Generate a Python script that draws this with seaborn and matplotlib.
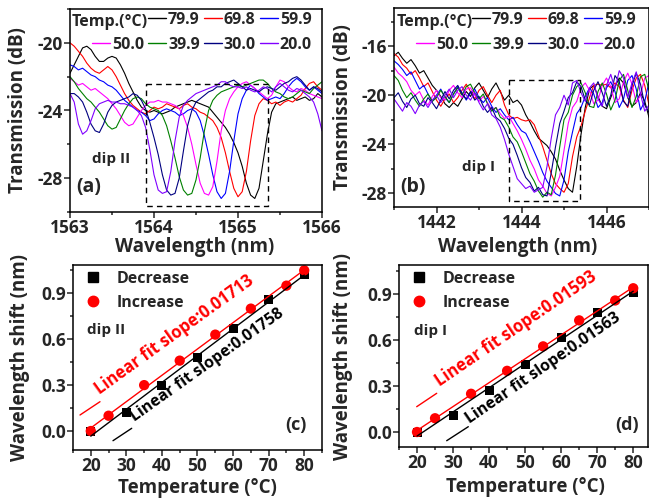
import numpy as np
import pandas as pd
import matplotlib
matplotlib.use('Agg')
import matplotlib.pyplot as plt
from matplotlib.lines import Line2D
from matplotlib.ticker import MultipleLocator
import seaborn as sns

# temperatures and colours of the spectra
temps = ['79.9', '69.8', '59.9', '50.0', '39.9', '30.0', '20.0']
colors = ['black', 'red', 'blue', 'magenta', 'green', 'navy', '#8000ff']

# (a) dip II spectra, sampled every 0.05 nm from 1563 to 1566
wl_a = np.round(np.arange(1563.0, 1566.001, 0.05), 2)
a_799 = [-21.8, -21.3, -20.8, -20.3, -20.2, -20.4, -20.8, -21.1, -21.1, -20.9, -20.8, -20.9, -21.3, -21.8, -22.4, -22.9,
         -23.4, -23.8, -24.0, -24.1, -24.0, -24.1, -24.2, -24.1, -24.0, -23.8, -23.7, -23.6, -23.5, -23.4, -23.5, -23.6,
         -23.7, -23.8, -24.1, -24.4, -24.7, -25.0, -25.4, -25.9, -26.5, -27.3, -28.3, -29.0, -29.2, -28.6, -27.0, -25.4,
         -24.1, -23.6, -23.5, -23.4, -23.3, -23.2, -23.4, -23.3, -23.2, -23.4, -23.3, -23.0, -23.2]
a_698 = [-20.0, -20.2, -20.5, -20.8, -21.2, -21.5, -21.7, -21.8, -21.6, -21.4, -21.6, -22.0, -22.5, -23.0, -23.4, -23.7,
         -23.9, -24.1, -24.2, -24.0, -23.8, -23.9, -23.8, -23.6, -23.7, -23.8, -23.9, -23.7, -23.6, -23.8, -23.9, -24.1,
         -24.2, -24.4, -24.6, -25.0, -25.6, -26.5, -27.6, -28.6, -29.1, -28.8, -27.6, -25.8, -24.3, -23.6, -23.3, -23.4,
         -23.6, -23.5, -23.7, -23.5, -23.4, -23.5, -23.3, -23.1, -22.7, -22.4, -22.3, -22.6, -22.8]
a_599 = [-21.3, -21.4, -21.6, -21.5, -21.7, -21.9, -22.0, -22.2, -22.3, -22.5, -22.6, -22.8, -23.1, -23.4, -23.6, -23.8,
         -24.0, -24.1, -24.3, -24.6, -24.5, -24.2, -24.0, -23.9, -24.0, -24.1, -24.3, -24.2, -24.0, -23.9, -24.1, -24.6,
         -25.5, -26.6, -27.8, -28.8, -29.2, -28.9, -27.6, -25.8, -24.2, -23.3, -22.8, -22.5, -22.7, -23.0, -23.2, -23.4,
         -23.3, -23.2, -23.3, -23.0, -22.6, -22.3, -22.1, -22.3, -22.6, -22.8, -22.6, -22.8, -23.0]
a_500 = [-22.1, -22.3, -22.5, -22.4, -22.6, -22.8, -22.7, -22.9, -23.1, -23.3, -23.6, -23.9, -24.3, -24.7, -24.9, -24.8,
         -24.4, -24.0, -23.7, -23.5, -23.5, -23.4, -23.5, -23.5, -23.6, -23.7, -23.9, -24.3, -25.0, -26.0, -27.2, -28.3,
         -28.9, -29.0, -28.5, -27.0, -25.2, -24.0, -23.3, -22.9, -22.6, -22.4, -22.3, -22.5, -22.7, -22.9, -23.1, -23.3,
         -23.1, -22.6, -22.2, -22.3, -22.6, -22.8, -22.9, -22.7, -22.8, -23.0, -23.1, -23.2, -23.3]
a_399 = [-22.0, -22.3, -22.7, -23.0, -23.3, -23.5, -23.8, -24.1, -24.5, -24.9, -25.1, -25.0, -24.5, -24.0, -23.6, -23.3,
         -23.2, -23.3, -23.6, -23.8, -23.9, -24.0, -24.3, -24.9, -25.8, -26.8, -27.9, -28.7, -29.0, -28.9, -28.1, -26.8,
         -25.2, -24.0, -23.4, -23.1, -22.9, -22.8, -22.7, -22.6, -22.5, -22.6, -22.5, -22.4, -22.3, -22.2, -22.2, -22.4,
         -22.7, -22.9, -23.0, -23.2, -23.3, -23.2, -23.0, -22.8, -22.9, -23.0, -22.7, -22.5, -22.3]
a_300 = [-23.0, -23.0, -23.2, -23.5, -24.1, -24.8, -25.2, -25.3, -24.8, -24.1, -23.7, -23.5, -23.4, -23.3, -23.2, -23.0,
         -23.1, -23.4, -23.9, -24.7, -25.6, -26.6, -27.8, -28.7, -29.0, -28.9, -28.0, -26.4, -24.9, -24.0, -23.5, -23.3,
         -23.1, -22.9, -22.8, -22.6, -22.6, -22.4, -22.3, -22.2, -22.4, -22.6, -22.8, -22.7, -22.8, -22.9, -22.7, -22.6,
         -22.7, -22.8, -22.6, -22.4, -22.3, -22.1, -22.0, -22.2, -22.5, -22.8, -22.6, -22.7, -22.9]
a_200 = [-23.0, -23.5, -24.8, -25.4, -25.2, -24.6, -23.9, -23.6, -23.5, -23.4, -23.5, -23.5, -23.6, -23.6, -23.7, -23.8,
         -24.0, -24.3, -25.0, -26.3, -27.8, -28.7, -28.9, -28.8, -27.6, -25.8, -24.4, -23.7, -23.4, -23.2, -23.0, -22.9,
         -22.8, -22.7, -22.6, -22.5, -22.3, -22.3, -22.5, -22.6, -22.6, -22.7, -22.6, -22.8, -22.9, -22.8, -22.6, -22.7,
         -22.9, -22.6, -22.4, -22.6, -22.8, -22.9, -22.7, -22.8, -23.0, -23.2, -23.5, -24.2, -25.2]

# (b) dip I spectra, sampled every 0.1 nm from 1441 to 1447
wl_b = np.round(np.arange(1441.0, 1447.001, 0.1), 1)
b_799 = [-16.8, -16.5, -17.0, -17.4, -17.1, -17.6, -18.2, -18.0, -18.6, -19.2, -19.6, -20.1, -20.7, -21.0, -20.6, -20.9,
         -20.3, -19.7, -20.1, -19.4, -19.0, -19.6, -20.2, -19.5, -19.0, -19.7, -20.4, -20.0, -20.6, -20.4, -20.8, -21.6,
         -22.2, -22.9, -23.5, -23.8, -24.1, -24.6, -25.2, -26.1, -26.9, -27.6, -27.9, -25.8, -23.2, -21.0, -19.5, -19.2,
         -20.1, -20.9, -21.1, -20.2, -19.3, -18.6, -19.0, -20.2, -20.9, -20.6, -19.8, -20.5, -21.8]
b_698 = [-16.6, -16.9, -17.5, -17.8, -18.3, -18.0, -18.6, -19.3, -19.0, -19.7, -20.4, -20.9, -20.3, -19.9, -20.6, -20.2,
         -19.6, -19.1, -19.7, -20.3, -19.6, -19.3, -20.0, -20.6, -20.0, -19.6, -20.8, -21.6, -21.9, -21.8, -22.0, -22.1,
         -22.0, -22.4, -23.3, -24.2, -25.3, -26.4, -27.2, -27.6, -27.9, -27.2, -25.0, -23.4, -22.5, -21.3, -20.2, -19.2,
         -19.1, -19.2, -19.1, -19.4, -19.0, -19.3, -20.4, -21.0, -19.6, -18.6, -18.3, -19.2, -20.8]
b_599 = [-17.2, -17.5, -17.9, -18.4, -18.1, -18.8, -19.5, -19.2, -19.9, -20.5, -20.0, -19.5, -20.2, -20.6, -19.9, -19.3,
         -19.8, -20.4, -19.8, -19.5, -20.2, -20.6, -20.2, -20.9, -21.4, -21.1, -21.6, -22.0, -21.8, -22.4, -22.9, -23.1,
         -23.8, -24.6, -25.4, -26.3, -27.0, -27.5, -28.0, -28.2, -26.9, -24.6, -23.0, -21.5, -21.0, -20.1, -19.4, -19.9,
         -21.0, -20.6, -19.4, -18.9, -19.7, -21.0, -20.3, -18.8, -18.4, -19.5, -21.2, -20.5, -18.9]
b_500 = [-17.7, -18.2, -18.5, -18.9, -19.6, -20.0, -19.7, -20.4, -20.8, -20.1, -19.6, -20.2, -20.4, -19.6, -19.2, -19.8,
         -20.2, -19.5, -19.4, -20.0, -20.5, -20.1, -20.6, -21.2, -21.0, -21.5, -21.9, -21.7, -22.3, -22.9, -23.6, -24.4,
         -25.3, -26.0, -26.9, -27.4, -28.0, -28.2, -27.5, -26.6, -24.5, -22.3, -21.0, -20.5, -19.4, -19.0, -19.6, -20.7,
         -20.4, -19.2, -18.6, -19.3, -20.6, -20.3, -18.9, -18.2, -19.1, -20.6, -20.0, -18.6, -18.4]
b_399 = [-18.4, -18.8, -19.6, -20.2, -19.8, -20.4, -20.9, -20.3, -19.9, -20.5, -20.2, -19.6, -20.1, -20.6, -19.9, -19.4,
         -20.0, -19.3, -19.1, -19.8, -20.3, -19.9, -20.7, -21.3, -21.0, -21.8, -22.0, -22.6, -23.4, -23.8, -24.6, -25.5,
         -26.4, -27.0, -27.8, -28.3, -27.9, -28.1, -26.5, -24.2, -22.0, -21.4, -20.0, -19.3, -19.0, -19.8, -20.9, -21.0,
         -19.7, -19.0, -19.9, -21.2, -20.4, -18.8, -18.3, -19.6, -21.0, -20.1, -18.5, -18.3, -19.6]
b_300 = [-20.2, -19.8, -20.5, -21.0, -20.3, -20.0, -20.7, -20.9, -20.2, -20.6, -21.1, -20.4, -19.7, -20.3, -19.6, -19.2,
         -19.9, -20.3, -19.7, -20.4, -20.1, -20.9, -21.4, -21.0, -21.8, -22.1, -22.7, -23.5, -24.0, -24.9, -25.9, -26.7,
         -27.1, -27.8, -27.5, -28.1, -28.2, -26.3, -24.2, -22.3, -21.3, -20.2, -19.8, -18.9, -19.3, -20.4, -20.8, -19.6,
         -18.9, -19.8, -20.9, -20.0, -18.4, -18.9, -20.5, -20.9, -19.2, -18.2, -19.1, -20.8, -21.4]
b_200 = [-20.3, -20.8, -21.3, -20.6, -20.9, -21.5, -20.8, -20.5, -21.0, -20.4, -20.0, -20.6, -20.0, -19.5, -20.2, -19.6,
         -19.3, -20.0, -20.4, -19.8, -20.6, -21.2, -20.7, -21.6, -21.9, -22.6, -23.6, -24.8, -25.8, -26.8, -27.2, -27.6,
         -27.4, -27.9, -27.7, -27.5, -25.8, -23.5, -21.6, -21.0, -20.0, -20.8, -19.0, -18.8, -19.8, -20.5, -19.4, -19.0,
         -20.3, -20.9, -19.2, -18.3, -19.5, -18.0, -18.6, -20.2, -19.0, -18.1, -19.9, -21.3, -20.8]

spec_a = [a_799, a_698, a_599, a_500, a_399, a_300, a_200]
spec_b = [b_799, b_698, b_599, b_500, b_399, b_300, b_200]

# (c), (d) wavelength shift vs temperature
temp_dec = [20, 30, 40, 50, 60, 70, 80]
temp_inc = [20, 25, 35, 45, 55, 65, 75, 80]
shift_dec_II = [0.0, 0.12, 0.30, 0.48, 0.67, 0.86, 1.02]
shift_inc_II = [0.0, 0.10, 0.30, 0.46, 0.63, 0.80, 0.95, 1.05]
shift_dec_I = [0.0, 0.11, 0.27, 0.44, 0.62, 0.78, 0.91]
shift_inc_I = [0.0, 0.09, 0.25, 0.40, 0.56, 0.73, 0.86, 0.94]

sns.set_style('ticks')
plt.rcParams['font.family'] = ['Open Sans', 'DejaVu Sans']
plt.rcParams['font.weight'] = 'bold'
plt.rcParams['axes.labelweight'] = 'bold'
plt.rcParams['axes.unicode_minus'] = False
plt.rcParams['axes.linewidth'] = 1.1

W, H = 649, 498
fig = plt.figure(figsize=(W / 100, H / 100), dpi=100)


def px_axes(l, t, r, b):
    return fig.add_axes([l / W, 1 - b / H, (r - l) / W, (b - t) / H])


def ftext(x, y, s, **kw):
    fig.text(x / W, 1 - y / H, s, **kw)


def fline(x0, y0, x1, y1, c):
    fig.add_artist(Line2D([x0 / W, x1 / W], [1 - y0 / H, 1 - y1 / H], color=c, lw=1.0,
                          transform=fig.transFigure))


def style(ax):
    ax.tick_params(which='both', direction='out', width=1.1, labelsize=12.5, pad=1)
    ax.tick_params(which='major', length=4)
    ax.tick_params(which='minor', length=2.5)
    for s in ax.spines.values():
        s.set_visible(True)
        s.set_color('black')


ax_a = px_axes(70, 9, 322, 212)
ax_b = px_axes(394, 8, 649, 207)
ax_c = px_axes(73, 265, 322, 450)
ax_d = px_axes(399, 265, 648, 447)


def spectra(ax, wl, specs):
    rows = []
    for t, vals in zip(temps, specs):
        rows.append(pd.DataFrame({'wl': wl, 'dB': vals, 'T': t}))
    df = pd.concat(rows)
    sns.lineplot(data=df, x='wl', y='dB', hue='T', hue_order=temps, palette=colors,
                 estimator=None, sort=False, lw=0.8, legend=False, ax=ax)


spectra(ax_a, wl_a, spec_a)
spectra(ax_b, wl_b, spec_b)

# panel (a)
ax_a.set_xlim(1563, 1566)
ax_a.set_ylim(-30, -18)
ax_a.xaxis.set_major_locator(MultipleLocator(1))
ax_a.xaxis.set_minor_locator(MultipleLocator(0.5))
ax_a.yaxis.set_major_locator(MultipleLocator(4))
ax_a.yaxis.set_minor_locator(MultipleLocator(2))
ax_a.plot([1563.91, 1565.36, 1565.36, 1563.91, 1563.91], [-22.43, -22.43, -29.64, -29.64, -22.43],
          ls=(0, (4, 3)), color='black', lw=1.0)

# panel (b)
ax_b.set_xlim(1441, 1447)
ax_b.set_ylim(-29.1, -12.9)
ax_b.xaxis.set_major_locator(MultipleLocator(2))
ax_b.xaxis.set_minor_locator(MultipleLocator(1))
ax_b.yaxis.set_major_locator(MultipleLocator(4))
ax_b.yaxis.set_minor_locator(MultipleLocator(2))
ax_b.plot([1443.70, 1445.37, 1445.37, 1443.70, 1443.70], [-18.8, -18.8, -28.6, -28.6, -18.8],
          ls=(0, (4, 3)), color='black', lw=1.0)

for ax in (ax_a, ax_b):
    style(ax)
    ax.set_xlabel('Wavelength (nm)', fontsize=13.5)
    ax.set_ylabel('Transmission (dB)', fontsize=13.5)
ax_a.yaxis.set_label_coords(-0.167, 0.5)
ax_b.yaxis.set_label_coords(-0.161, 0.5)
ax_a.xaxis.set_label_coords(0.496, -0.125)
ax_b.xaxis.set_label_coords(0.486, -0.15)

# temperature legends for (a) and (b)
order = [None, 3, 0, 4, 1, 5, 2, 6]
for ax, lx, tx in ((ax_a, 92, 72), (ax_b, 416, 397)):
    handles, labels = [], []
    for i in order:
        if i is None:
            handles.append(Line2D([], [], color='none'))
            labels.append(' ')
        else:
            handles.append(Line2D([], [], color=colors[i], lw=1.0))
            labels.append(temps[i])
    ax.legend(handles, labels, ncol=4, loc='upper left', bbox_to_anchor=(lx / W, 1 - 12 / H),
              bbox_transform=fig.transFigure, frameon=False, fontsize=11.5, handlelength=1.15,
              handletextpad=0.1, columnspacing=0.25, labelspacing=0.55, borderpad=0, borderaxespad=0)
    ftext(tx, 22, 'Temp.(\u00b0C)', fontsize=11.5, va='center', ha='left')

ftext(92, 163, 'dip II', fontsize=11)
ftext(76, 187, '(a)', fontsize=14, va='center')
ftext(462, 167, 'dip I', fontsize=11, va='center')
ftext(400, 187, '(b)', fontsize=14, va='center')


# panels (c) and (d)
def shift_panel(ax, dec, inc, lx):
    sns.regplot(x=temp_dec, y=dec, ax=ax, ci=None, marker='s', color='black',
                scatter_kws=dict(s=42, edgecolor='none', alpha=1), line_kws=dict(lw=1.0))
    sns.regplot(x=temp_inc, y=inc, ax=ax, ci=None, marker='o', color='red',
                scatter_kws=dict(s=55, edgecolor='none', alpha=1), line_kws=dict(lw=1.0))
    ax.set_xlim(15, 85)
    ax.xaxis.set_major_locator(MultipleLocator(10))
    ax.xaxis.set_minor_locator(MultipleLocator(5))
    ax.yaxis.set_major_locator(MultipleLocator(0.3))
    ax.yaxis.set_minor_locator(MultipleLocator(0.15))
    ax.yaxis.set_major_formatter(matplotlib.ticker.FormatStrFormatter('%.1f'))
    style(ax)
    ax.set_xlabel('Temperature (\u00b0C)', fontsize=13.5)
    ax.set_ylabel('Wavelength shift (nm)', fontsize=13.5)
    h = [Line2D([], [], ls='none', marker='s', color='black', ms=6.5),
         Line2D([], [], ls='none', marker='o', color='red', ms=7.5)]
    ax.legend(h, ['Decrease', 'Increase'], loc='upper left', bbox_to_anchor=(lx / W, 1 - 271 / H),
              bbox_transform=fig.transFigure, frameon=False, fontsize=11.5, borderpad=0,
              handletextpad=1.0, labelspacing=0.5, borderaxespad=0, handlelength=1.0)


shift_panel(ax_c, shift_dec_II, shift_inc_II, 85)
shift_panel(ax_d, shift_dec_I, shift_inc_I, 411)
ax_c.set_ylim(-0.124, 1.085)
ax_d.set_xlim(15, 84.1)
ax_d.set_ylim(-0.098, 1.092)
ax_c.yaxis.set_label_coords(-0.173, 0.5)
ax_d.yaxis.set_label_coords(-0.185, 0.5)
ax_c.xaxis.set_label_coords(0.5, -0.15)
ax_d.xaxis.set_label_coords(0.506, -0.165)

ftext(87, 330, 'dip II', fontsize=11, va='center')
ftext(285, 425, '(c)', fontsize=13, va='center')
ftext(414, 331, 'dip I', fontsize=11, va='center')
ftext(615, 425, '(d)', fontsize=13, va='center')

# slope annotations
fline(80, 415, 100, 401.7, 'red')
ftext(102, 398, 'Linear fit slope:0.01713', color='red', fontsize=12, rotation=35.8,
      rotation_mode='anchor', ha='left', va='bottom')
fline(113, 440.7, 131.7, 428.3, 'black')
ftext(137, 425, 'Linear fit slope:0.01758', color='black', fontsize=11.5, rotation=35.4,
      rotation_mode='anchor', ha='left', va='bottom')
fline(416.7, 406.7, 436.7, 393.3, 'red')
ftext(442, 390, 'Linear fit slope:0.01593', color='red', fontsize=12, rotation=34.3,
      rotation_mode='anchor', ha='left', va='bottom')
fline(446.7, 440.7, 468.3, 426.7, 'black')
ftext(472, 427, 'Linear fit slope:0.01563', color='black', fontsize=11.5, rotation=34.5,
      rotation_mode='anchor', ha='left', va='bottom')

fig.savefig('out.png', dpi=100, facecolor='white')
